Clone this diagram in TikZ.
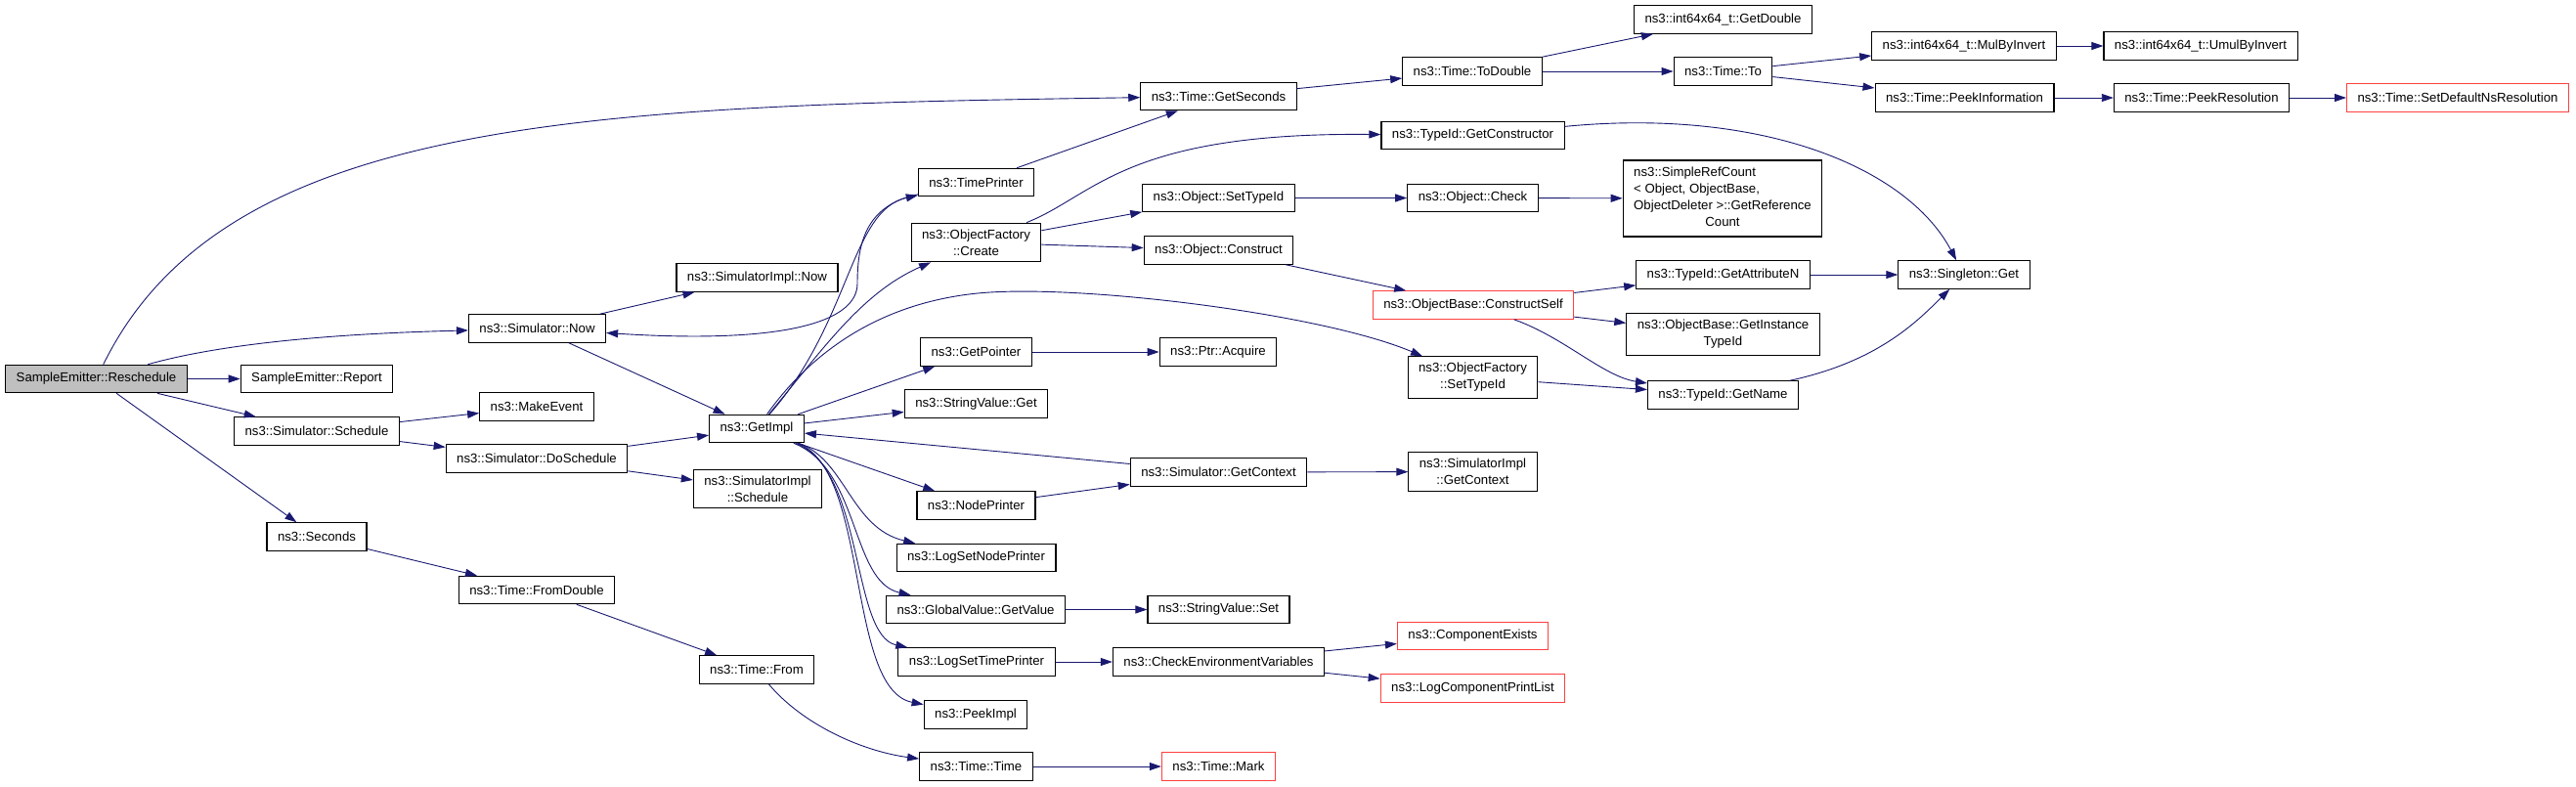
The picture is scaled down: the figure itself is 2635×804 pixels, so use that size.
\documentclass[tikz,border=0pt]{standalone}
\usepackage{fontspec}
\setmainfont{Liberation Sans}
\usetikzlibrary{arrows.meta}
\definecolor{callblue}{RGB}{25,25,112}
\definecolor{doxred}{RGB}{255,64,64}
\definecolor{rootgray}{RGB}{191,191,191}

\tikzset{fnode/.style = {shape = rectangle,
                         color = black,
                         fill = white,
                         line width = 1.1pt,
                         inner xsep = 11pt,
                         inner ysep = 6.5pt,
                         minimum height = 28.5pt,
                         align = center,
                         font = \fontsize{13.2}{17}\selectfont,
                         draw},
         rootnode/.style = {fnode, fill = rootgray},
         rednode/.style = {fnode, draw = doxred, text = black}}

\begin{document}
\begin{tikzpicture}[x=1pt, y=-1pt,
                    call/.style = {draw = callblue,
                                   line width = 0.9pt,
                                   -{Triangle[length=12pt,width=8pt]}}]
		\useasboundingbox (0,0) rectangle (2635,804);
		% column 1 and 2
		\node[rootnode] (resched) at (98.5,387.5) {SampleEmitter::Reschedule};
		\node[fnode] (report) at (324,387.5) {SampleEmitter::Report};
		\node[fnode] (sched) at (324,441) {ns3::Simulator::Schedule};
		\node[fnode] (seconds) at (324,549) {ns3::Seconds};
		% column 3
		\node[fnode] (simnow) at (549.5,336) {ns3::Simulator::Now};
		\node[fnode] (mkevent) at (549,416) {ns3::MakeEvent};
		\node[fnode] (dosched) at (549,469) {ns3::Simulator::DoSchedule};
		\node[fnode] (fromdbl) at (549,603.5) {ns3::Time::FromDouble};
		% column 4
		\node[fnode] (implnow) at (774.5,284) {ns3::SimulatorImpl::Now};
		\node[fnode] (getimpl) at (774,438.5) {ns3::GetImpl};
		\node[fnode] (implsched) at (775,500) {ns3::SimulatorImpl\\::Schedule};
		\node[fnode] (tfrom) at (774,685) {ns3::Time::From};
		% column 5
		\node[fnode] (timeprn) at (998.5,186.5) {ns3::TimePrinter};
		\node[fnode] (ofcreate) at (998.5,248) {ns3::ObjectFactory\\::Create};
		\node[fnode] (getptr) at (998.5,360) {ns3::GetPointer};
		\node[fnode] (svget) at (998.5,413) {ns3::StringValue::Get};
		\node[fnode] (nodeprn) at (998.5,517) {ns3::NodePrinter};
		\node[fnode] (lsnp) at (998.5,570.5) {ns3::LogSetNodePrinter};
		\node[fnode] (gvget) at (998,623.5) {ns3::GlobalValue::GetValue};
		\node[fnode] (lstp) at (999,677) {ns3::LogSetTimePrinter};
		\node[fnode] (peekimpl) at (998,731) {ns3::PeekImpl};
		\node[fnode] (ttime) at (998.5,784) {ns3::Time::Time};
		% column 6
		\node[fnode] (getsec) at (1246.5,98.5) {ns3::Time::GetSeconds};
		\node[fnode] (objsettid) at (1246.5,202.5) {ns3::Object::SetTypeId};
		\node[fnode] (construct) at (1246.5,256) {ns3::Object::Construct};
		\node[fnode] (acquire) at (1246,360) {ns3::Ptr::Acquire};
		\node[fnode] (simctx) at (1246.5,483) {ns3::Simulator::GetContext};
		\node[fnode] (svset) at (1246.5,623.5) {ns3::StringValue::Set};
		\node[fnode] (chkenv) at (1246.5,677) {ns3::CheckEnvironmentVariables};
		\node[rednode] (tmark) at (1246.5,784) {ns3::Time::Mark};
		% column 7
		\node[fnode] (todbl) at (1506,73) {ns3::Time::ToDouble};
		\node[fnode] (getctor) at (1506.5,138.5) {ns3::TypeId::GetConstructor};
		\node[fnode] (objcheck) at (1506.5,202.5) {ns3::Object::Check};
		\node[rednode] (cself) at (1507,312) {ns3::ObjectBase::ConstructSelf};
		\node[fnode] (ofsettid) at (1506.5,386) {ns3::ObjectFactory\\::SetTypeId};
		\node[fnode] (implctx) at (1506.5,482.5) {ns3::SimulatorImpl\\::GetContext};
		\node[rednode] (compexists) at (1506.5,650.5) {ns3::ComponentExists};
		\node[rednode] (logcpl) at (1506.5,704) {ns3::LogComponentPrintList};
		% column 8
		\node[fnode, inner ysep = 5pt] (simplerc) at (1762,203) {\begin{tabular}{@{}l@{}}
			ns3::SimpleRefCount\\
			< Object, ObjectBase,\\
			ObjectDeleter >::GetReference\\
			\multicolumn{1}{@{}c@{}}{Count}
		\end{tabular}};
		\node[fnode] (getdbl) at (1762.5,20) {ns3::int64x64\_t::GetDouble};
		\node[fnode] (tto) at (1762.5,73) {ns3::Time::To};
		\node[fnode] (getattrn) at (1762.5,281) {ns3::TypeId::GetAttributeN};
		\node[fnode] (getinst) at (1762.5,342) {ns3::ObjectBase::GetInstance\\TypeId};
		\node[fnode] (getname) at (1762.5,404) {ns3::TypeId::GetName};
		% column 9 to 11
		\node[fnode] (mulinv) at (2009,47) {ns3::int64x64\_t::MulByInvert};
		\node[fnode] (peekinfo) at (2009.5,100) {ns3::Time::PeekInformation};
		\node[fnode] (singleton) at (2009,281) {ns3::Singleton::Get};
		\node[fnode] (umulinv) at (2251,47) {ns3::int64x64\_t::UmulByInvert};
		\node[fnode] (peekres) at (2252,100) {ns3::Time::PeekResolution};
		\node[rednode] (setdefns) at (2514,100) {ns3::Time::SetDefaultNsResolution};

		% calls
		\draw[call] (resched) .. controls (230,120) and (600,108) .. (getsec);
		\draw[call] (resched) .. controls (250,345) and (400,340) .. (simnow);
		\draw[call] (resched) -- (report);
		\draw[call] (resched) -- (sched);
		\draw[call] (resched) -- (seconds);
		\draw[call] (simnow) -- (implnow);
		\draw[call] (simnow) -- (getimpl);
		\draw[call] (sched) -- (mkevent);
		\draw[call] (sched) -- (dosched);
		\draw[call] (dosched) -- (getimpl);
		\draw[call] (dosched) -- (implsched);
		\draw[call] (seconds) -- (fromdbl);
		\draw[call] (fromdbl) -- (tfrom);
		\draw[call] (tfrom) .. controls (820,740) and (880,768) .. (ttime);
		\draw[call] (ttime) -- (tmark);
		\draw[call] (getimpl) .. controls (870,330) and (870,215) .. (timeprn);
		\draw[call] (getimpl) .. controls (840,360) and (880,300) .. (ofcreate);
		\draw[call] (getimpl) .. controls (830,360) and (900,310) .. (1000,300) .. controls (1100,290) and (1350,320) .. (ofsettid);
		\draw[call] (getimpl) -- (getptr);
		\draw[call] (getimpl) -- (svget);
		\draw[call] (getimpl) -- (nodeprn);
		\draw[call] (getimpl) .. controls (865,470) and (870,540) .. (lsnp);
		\draw[call] (getimpl) .. controls (880,480) and (870,595) .. (gvget);
		\draw[call] (getimpl) .. controls (885,480) and (870,650) .. (lstp);
		\draw[call] (getimpl) .. controls (890,480) and (865,705) .. (peekimpl);
		\draw[call] (timeprn) .. controls (885,210) and (877,250) .. (877,290) .. controls (877,330) and (800,352) .. (simnow);
		\draw[call] (timeprn) -- (getsec);
		\draw[call] (getsec) -- (todbl);
		\draw[call] (todbl) -- (getdbl);
		\draw[call] (todbl) -- (tto);
		\draw[call] (tto) -- (mulinv);
		\draw[call] (tto) -- (peekinfo);
		\draw[call] (mulinv) -- (umulinv);
		\draw[call] (peekinfo) -- (peekres);
		\draw[call] (peekres) -- (setdefns);
		\draw[call] (ofcreate) .. controls (1120,200) and (1150,135) .. (getctor);
		\draw[call] (ofcreate) -- (objsettid);
		\draw[call] (ofcreate) -- (construct);
		\draw[call] (objsettid) -- (objcheck);
		\draw[call] (objcheck) -- (simplerc);
		\draw[call] (construct) -- (cself);
		\draw[call] (cself) -- (getattrn);
		\draw[call] (cself) -- (getinst);
		\draw[call] (cself) .. controls (1600,345) and (1640,385) .. (getname);
		\draw[call] (ofsettid) -- (getname);
		\draw[call] (getattrn) -- (singleton);
		\draw[call] (getname) .. controls (1920,370) and (1960,330) .. (singleton);
		\draw[call] (getctor) .. controls (1800,110) and (1950,170) .. (singleton);
		\draw[call] (getptr) -- (acquire);
		\draw[call] (nodeprn) -- (simctx);
		\draw[call] (simctx) -- (getimpl);
		\draw[call] (simctx) -- (implctx);
		\draw[call] (gvget) -- (svset);
		\draw[call] (lstp) -- (chkenv);
		\draw[call] (chkenv) -- (compexists);
		\draw[call] (chkenv) -- (logcpl);
	\end{tikzpicture}
\end{document}
